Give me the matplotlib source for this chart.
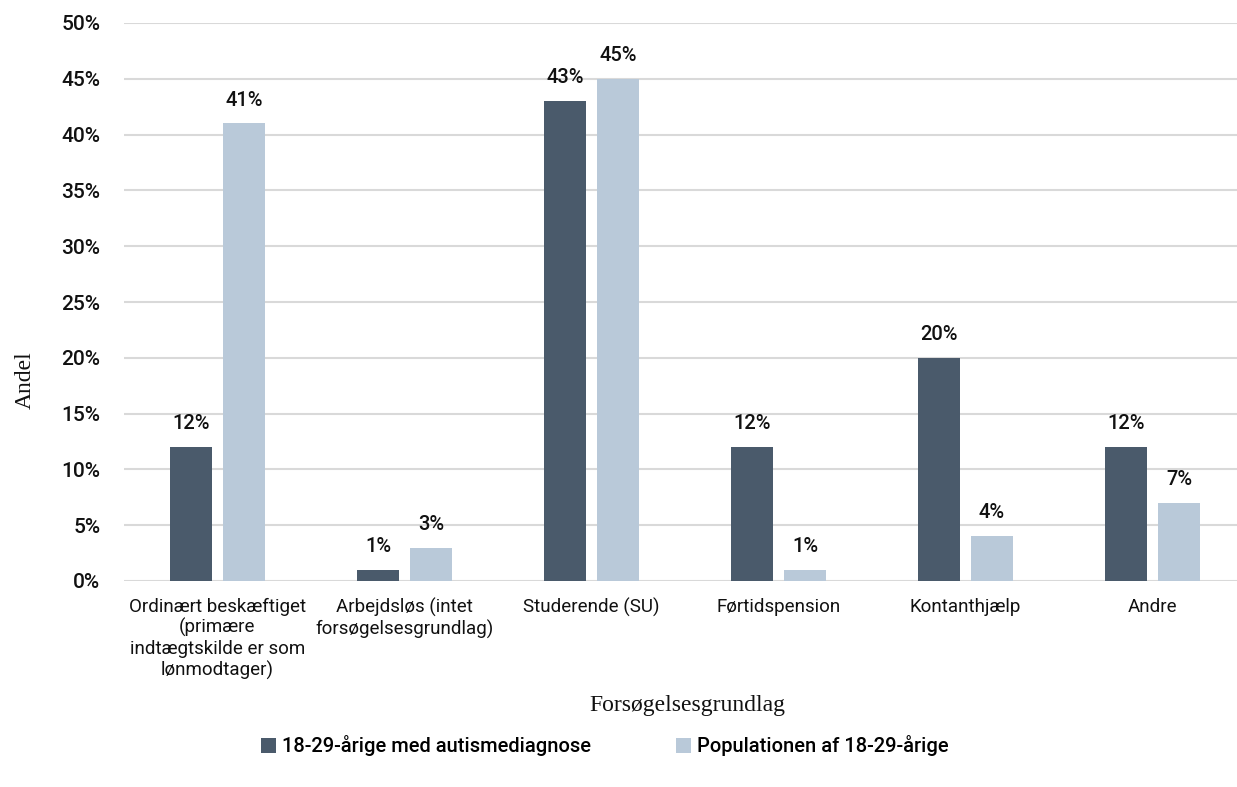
import numpy as np
import matplotlib as mpl
mpl.use('Agg')
import matplotlib.pyplot as plt

W, H, dpi = 1237, 787, 100

categories = ['Ordinært beskæftiget\n(primære\nindtægtskilde er som\nlønmodtager)',
              'Arbejdsløs (intet\nforsøgelsesgrundlag)',
              'Studerende (SU)',
              'Førtidspension',
              'Kontanthjælp',
              'Andre']
autisme = [12, 1, 43, 12, 20, 12]
population = [41, 3, 45, 1, 4, 7]
series_names = ['18-29-årige med autismediagnose', 'Populationen af 18-29-årige']
yticks = [0, 5, 10, 15, 20, 25, 30, 35, 40, 45, 50]

dark = '#4a5a6b'
light = '#b9c9d9'
ink = '#111111'
sans = ['Roboto', 'DejaVu Sans']
serif = ['Liberation Serif', 'DejaVu Serif']

mpl.rc('font', family=sans)

fig = plt.figure(figsize=(W/dpi, H/dpi), dpi=dpi)
ax = fig.add_axes([124/W, (H-581)/H, 1122/W, 558/H])

x = np.arange(len(categories))
bw = 0.225
off = 0.142
b1 = ax.bar(x-off, autisme, bw, color=dark, label=series_names[0], zorder=3)
b2 = ax.bar(x+off, population, bw, color=light, label=series_names[1], zorder=3)

for bars, vals in ((b1, autisme), (b2, population)):
    for r, v in zip(bars, vals):
        ax.annotate(f'{v}%', (r.get_x()+r.get_width()/2, v), xytext=(0, 10),
                    textcoords='offset points', ha='center', va='bottom',
                    fontsize=14.5, fontweight='medium', color=ink)

ax.set_xlim(-0.5, len(categories)-0.5)
ax.set_ylim(0, 50)
ax.set_yticks(yticks)
ax.set_yticklabels([f'{t}%' for t in yticks], fontsize=15, fontweight='medium', color=ink)
ax.set_xticks(x)
ax.set_xticklabels(categories, fontsize=13.5, color=ink, linespacing=1.17, va='top')
ax.tick_params(length=0)
ax.tick_params(axis='y', pad=17)
ax.tick_params(axis='x', pad=12)
ax.grid(axis='y', color='#d9d9d9', linewidth=1.5, zorder=0)
for s in ax.spines.values():
    s.set_visible(False)

fig.text(25/W, 1-380/H, 'Andel', rotation=90, ha='center', va='center',
         fontsize=17, family=serif, color=ink)
fig.text(687/W, 1-706/H, 'Forsøgelsesgrundlag', ha='center', va='center',
         fontsize=17, family=serif, color=ink)

fig.legend(loc='center', bbox_to_anchor=(605/W, 1-746/H), ncol=2, frameon=False,
           prop={'size': 14.5, 'weight': 'medium'}, handlelength=0.75, handleheight=0.75,
           handletextpad=0.3, columnspacing=4.2)

plt.savefig('out.png', dpi=dpi)
